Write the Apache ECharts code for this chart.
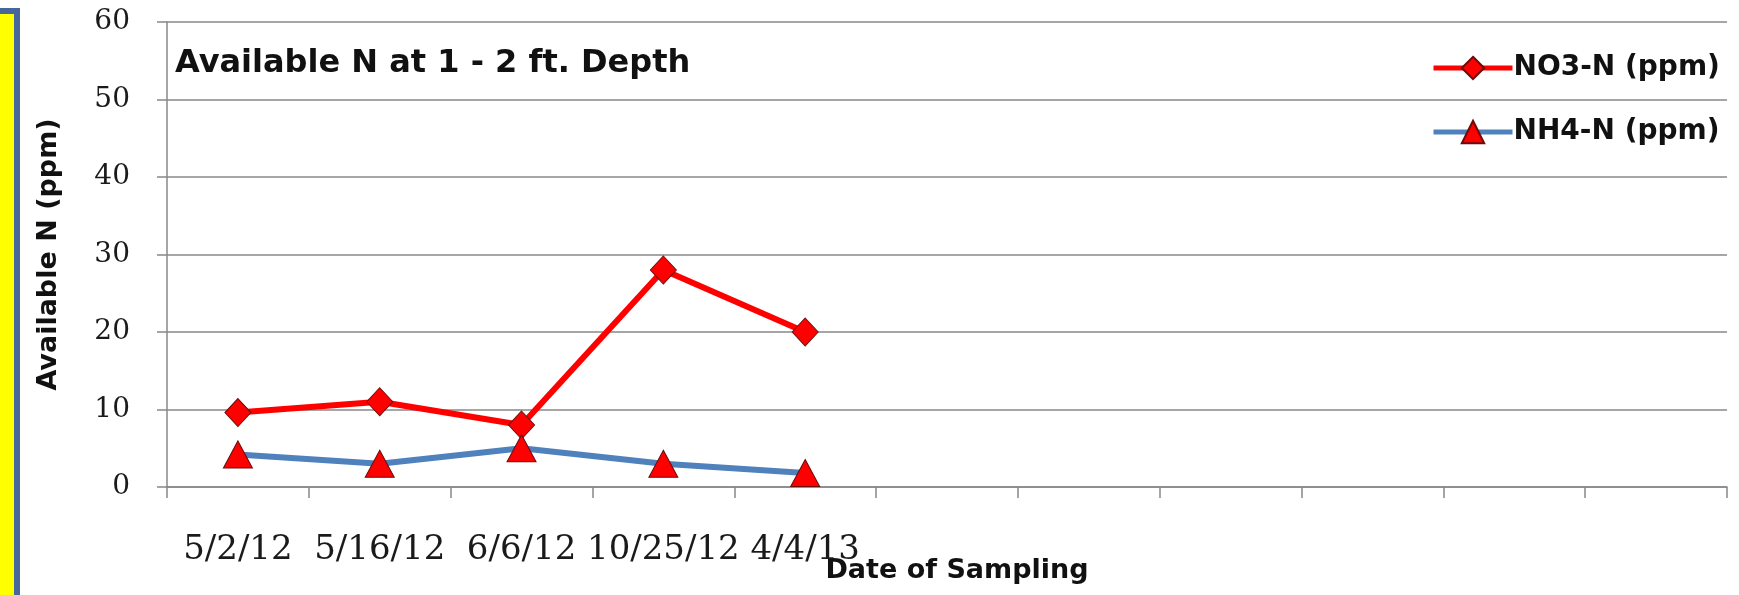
<!DOCTYPE html>
<html>
<head>
<meta charset="utf-8">
<script src="https://cdn.jsdelivr.net/npm/echarts@6/dist/echarts.min.js"></script>
<style>
html,body{margin:0;padding:0;background:#fff;}
#chart{width:1739px;height:595px;}
</style>
</head>
<body>
<div id="chart"></div>
<script>
// ---- data ----
var categories = ['5/2/12', '5/16/12', '6/6/12', '10/25/12', '4/4/13', '', '', '', '', '', ''];
var no3Values = [9.6, 11, 8, 28, 20];
var nh4Values = [4.2, 3, 5, 3, 1.8];
var seriesNames = ['NO3-N (ppm)', 'NH4-N (ppm)'];
var yTicks = { min: 0, max: 60, interval: 10 };
var titleText = 'Available N at 1 - 2 ft. Depth';
var xAxisTitle = 'Date of Sampling';
var yAxisTitle = 'Available N (ppm)';

var chart = echarts.init(document.getElementById('chart'), null, { renderer: 'canvas' });
var gridColor = '#888888';
var sansBold = { fontFamily: 'DejaVu Sans', fontWeight: 'bold', color: '#111' };

chart.setOption({
  backgroundColor: '#ffffff',
  animation: false,
  title: {
    text: titleText,
    left: 170,
    top: 42,
    textStyle: { fontFamily: 'DejaVu Sans', fontWeight: 'bold', fontSize: 32, color: '#111', lineHeight: 34 }
  },
  legend: {
    orient: 'vertical',
    left: 1426,
    top: 49,
    itemWidth: 79,
    itemHeight: 28,
    itemGap: 36,
    data: seriesNames,
    lineStyle: { width: 5 },
    textStyle: Object.assign({ fontSize: 28, lineHeight: 28, padding: [0, 0, 0, -4] }, sansBold)
  },
  grid: { left: 167, right: 12, top: 22, bottom: 108, containLabel: false, outerBoundsMode: 'none' },
  graphic: [{
    type: 'rect',
    shape: { x: -20, y: 11, width: 37, height: 700 },
    style: { fill: '#FFFF00', stroke: '#46679A', lineWidth: 6 },
    z: 10
  }],
  xAxis: {
    type: 'category',
    data: categories,
    boundaryGap: true,
    name: xAxisTitle,
    nameLocation: 'middle',
    nameGap: 69,
    nameMoveOverlap: false,
    nameTextStyle: Object.assign({ fontSize: 27, lineHeight: 30, padding: [0, 0, 0, 20] }, sansBold),
    axisLine: { show: true, lineStyle: { color: gridColor, width: 1.5 } },
    axisTick: { show: true, interval: 0, length: 11, lineStyle: { color: gridColor, width: 1.5 } },
    axisLabel: { interval: 0, margin: 46, fontFamily: 'DejaVu Serif', fontSize: 34, color: '#1a1a1a' },
    splitLine: { show: false }
  },
  yAxis: {
    type: 'value',
    min: yTicks.min,
    max: yTicks.max,
    interval: yTicks.interval,
    name: yAxisTitle,
    nameLocation: 'middle',
    nameGap: 105,
    nameTextStyle: Object.assign({ fontSize: 27 }, sansBold),
    axisLine: { show: true, lineStyle: { color: gridColor, width: 1.5 } },
    axisTick: { show: true, inside: false, length: 10, lineStyle: { color: gridColor, width: 1.5 } },
    axisLabel: { margin: 37, fontFamily: 'DejaVu Serif', fontSize: 28, color: '#1a1a1a' },
    splitLine: { show: true, lineStyle: { color: gridColor, width: 1.5 } }
  },
  series: [
    {
      name: seriesNames[0],
      type: 'line',
      data: no3Values,
      symbol: 'diamond',
      symbolSize: [26, 28],
      lineStyle: { color: '#FF0000', width: 6 },
      itemStyle: { color: '#FF0000', borderColor: '#6e0b0b', borderWidth: 1 },
      z: 3
    },
    {
      name: seriesNames[1],
      type: 'line',
      data: nh4Values,
      symbol: 'triangle',
      symbolSize: [29, 27],
      lineStyle: { color: '#4F81BD', width: 6 },
      itemStyle: { color: '#FF0000', borderColor: '#6e0b0b', borderWidth: 1 },
      z: 4
    }
  ]
});
</script>
</body>
</html>
